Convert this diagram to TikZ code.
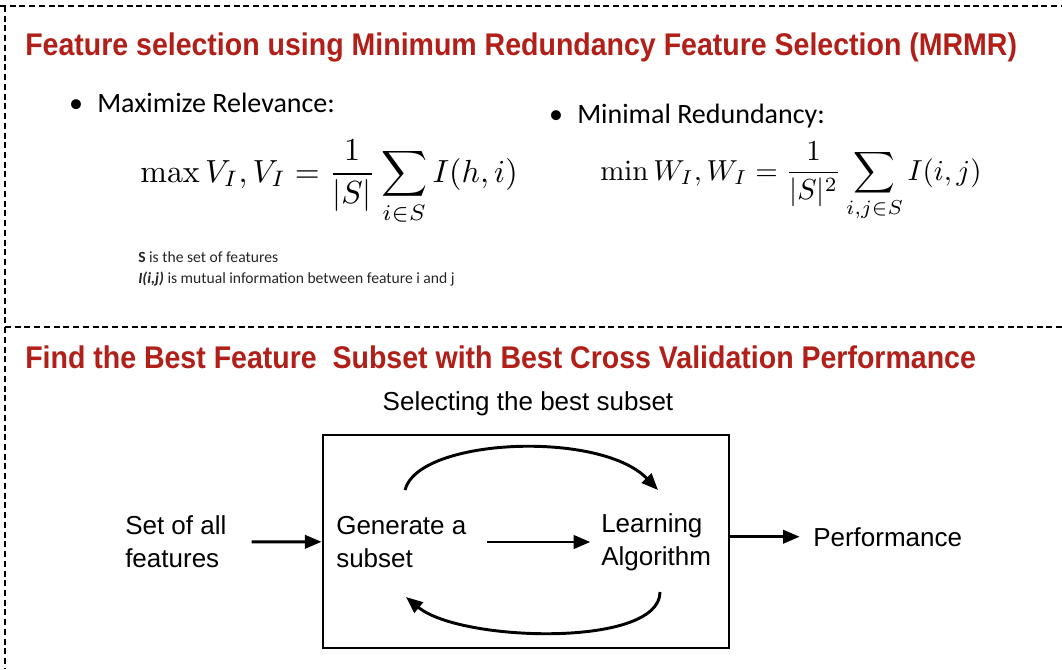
\RequirePackage{fix-cm}
\documentclass[tikz,border=0pt]{standalone}
\usepackage[no-math]{fontspec}
\setmainfont{Carlito}
\newfontfamily\headfont[FakeStretch=0.91]{Liberation Sans}
\newfontfamily\diagfont{Liberation Sans}
\usetikzlibrary{arrows.meta}
\definecolor{headred}{RGB}{178,30,24}
\newcommand{\bigformula}[2]{\scalebox{#1}{$\displaystyle #2$}}
\tikzset{
  frameline/.style={line width=2pt, dash pattern=on 4.5pt off 2.8pt},
  heading/.style={font=\headfont\bfseries\fontsize{23.5}{28}\selectfont, text=headred, anchor=base west, inner sep=0},
  bullettext/.style={font=\fontsize{21}{25}\selectfont, anchor=base west, inner sep=0},
  formula/.style={font=\normalsize, anchor=base west, inner sep=0},
  note/.style={font=\fontsize{11.7}{16.5}\selectfont, anchor=base west, inner sep=0, text=black!85},
  lbl/.style={font=\diagfont\fontsize{19.5}{24.75}\selectfont, align=left, inner sep=0},
  flow/.style={line width=2.2pt, -{Triangle[length=12.5pt,width=10pt]}},
}
\begin{document}
\begin{tikzpicture}[x=0.75pt,y=-0.75pt]
\useasboundingbox (0,0) rectangle (1062,669);

% dashed frame
\draw[frameline] (0,6) -- (1062,6);
\draw[frameline] (5,6) -- (5,669);
\draw[frameline] (5,327) -- (1062,327);

% upper panel
\node[heading] (head1) at (25,55.5) {Feature selection using Minimum Redundancy Feature Selection (MRMR)};

\node[bullettext, anchor=base] (relb) at (76,112) {•};
\node[bullettext] (rel) at (97,112) {Maximize Relevance:};
\node[formula] (relf) at (140,182) {\bigformula{2.4}{\max V_I, V_I = \frac{1}{|S|}\sum_{i\in S} I(h,i)}};

\node[bullettext, anchor=base] (redb) at (556,123) {•};
\node[bullettext] (red) at (577,123) {Minimal Redundancy:};
\node[formula] (redf) at (600,180) {\bigformula{2.17}{\min W_I, W_I = \frac{1}{|S|^2}\sum_{i,j\in S} I(i,j)}};

\node[note] (note1) at (138,262) {\textbf{S} is the set of features};
\node[note] (note2) at (138,283) {\textbf{\textit{I(i,j)}} is mutual information between feature i and j};

% lower panel
\node[heading] (head2) at (25,368) {Find the Best Feature\ \ Subset with Best Cross Validation Performance};

\node[lbl, anchor=base] (cap) at (528,410) {Selecting the best subset};
\node[draw, line width=2.2pt, minimum width=304.5pt, minimum height=159.75pt, inner sep=0] (box) at (526,541.5) {};

\node[lbl, anchor=west] (set) at (125,542) {Set of all\\features};
\node[lbl, anchor=west] (gen) at (336,542) {Generate a\\subset};
\node[lbl, anchor=west] (learn) at (601,542) {Learning\\Algorithm};
\node[lbl, anchor=base west] (perf) at (813,546) {Performance};

\draw[flow, shorten <=18.75pt] (set) -- (box);
\draw[flow, shorten <=15pt, shorten >=8pt] (gen) -- (learn);
\draw[flow, shorten >=10pt] (box.east |- perf.west) -- (perf.west);

% feedback loop
\coordinate (topA) at (405,490);
\coordinate (topB) at (658,490);
\coordinate (botA) at (660,592);
\coordinate (botB) at (406,597);
\draw[flow] (topA) .. controls (418,438) and (600,430) .. (topB);
\draw[flow] (botA) .. controls (660,648) and (460,642) .. (botB);
\end{tikzpicture}
\end{document}
